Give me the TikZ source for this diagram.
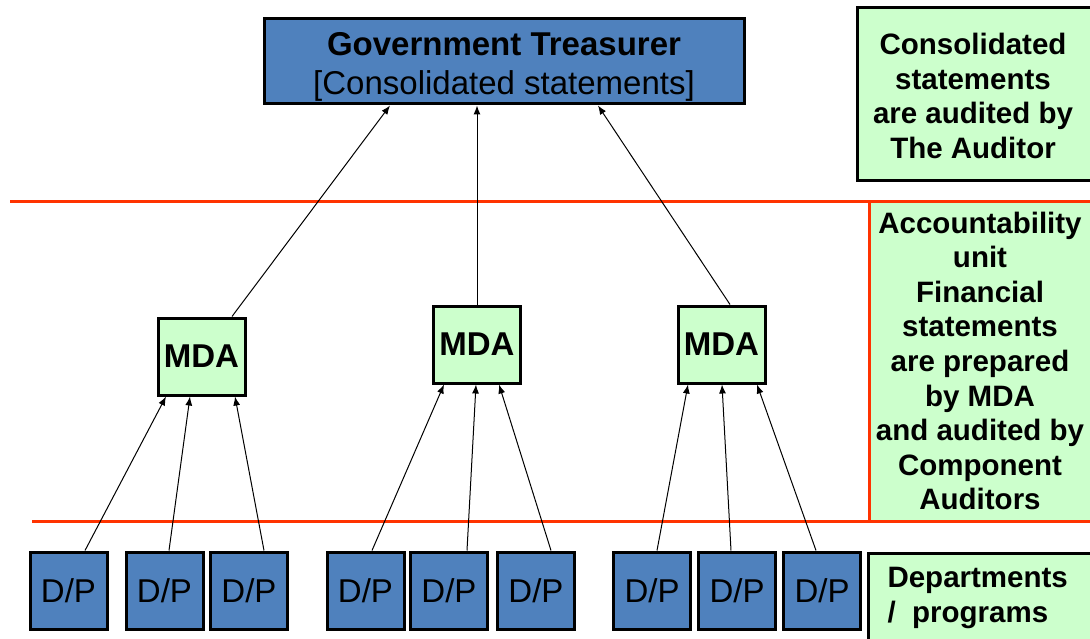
\documentclass[tikz,border=0pt]{standalone}
\usepackage{fontspec}
\setmainfont{Liberation Sans}
\usetikzlibrary{arrows.meta}
\definecolor{boxblue}{HTML}{4F81BD}
\definecolor{paleGreen}{HTML}{CCFFCC}
\definecolor{rule}{HTML}{FF3300}
\tikzset{
  box/.style={draw=black, line width=3pt, rectangle, inner sep=0pt, align=center},
  bluebox/.style={box, fill=boxblue},
  greenbox/.style={box, fill=paleGreen},
  dpbox/.style={bluebox, minimum width=77pt, minimum height=77pt,
    font=\fontsize{33}{39}\selectfont},
  mdabox/.style={greenbox, minimum width=87pt, minimum height=77pt,
    font=\fontsize{33}{39}\selectfont\bfseries},
  note/.style={font=\fontsize{29.5}{34.6}\selectfont\bfseries, align=center},
  link/.style={line width=1pt, -{Latex[length=9pt,width=7pt]}},
  divider/.style={draw=rule, line width=3pt}
}
\begin{document}
\begin{tikzpicture}[x=1pt, y=-1pt]
\useasboundingbox (0,0) rectangle (1090,639);

% shaded panel and dividing rules
\fill[paleGreen] (869,202) rectangle (1095,521);
\draw[divider] (10,202) -- (1095,202);
\draw[divider] (869,202) -- (869,521);
\draw[divider] (32,521) -- (1095,521);

% side notes
\draw[line width=3pt, fill=paleGreen] (857,8) rectangle (1100,181);
\node[note] (n1) at (973,96)
  {Consolidated\\statements\\are audited by\\The Auditor};
\node[note] (n2) at (980,361)
  {Accountability\\unit\\Financial\\ statements\\are prepared\\by MDA\\and audited by\\Component\\Auditors};
\draw[line width=3pt, fill=paleGreen] (868,553) rectangle (1100,650);
\node[note, align=left, anchor=west] (n3) at (884,598)
  {Departments\\/\ \ programs};

% treasurer
\node[bluebox, minimum width=480pt, minimum height=85pt] (gt) at (504,61.5) {};
\node[font=\fontsize{33}{39}\selectfont, align=center] (gttext) at (504,67)
  {\textbf{Government Treasurer}\\{[}Consolidated statements{]}};

% ministries, departments and agencies
\node[mdabox] (m1) at (201.5,356.5) {MDA};
\node[mdabox] (m2) at (477,344.5) {MDA};
\node[mdabox] (m3) at (721.5,344.5) {MDA};

% departments / programs
\foreach \i/\x in {1/68.5, 2/164.5, 3/249, 4/365.5, 5/449, 6/536, 7/652, 8/737, 9/822}
  \node[dpbox] (d\i) at (\x,590.5) {D/P};

% MDA -> treasurer
\draw[link] ([xshift=30.5pt]m1.north) -- ([xshift=-114pt]gt.south);
\draw[link] ([xshift=0pt]m2.north) -- ([xshift=-27pt]gt.south);
\draw[link] ([xshift=8.5pt]m3.north) -- ([xshift=94pt]gt.south);

% D/P -> MDA
\draw[link] ([xshift=16.5pt]d1.north) -- ([xshift=-35.5pt]m1.south);
\draw[link] ([xshift=4.5pt]d2.north) -- ([xshift=-11.5pt]m1.south);
\draw[link] ([xshift=15pt]d3.north) -- ([xshift=33.5pt]m1.south);
\draw[link] ([xshift=6.5pt]d4.north) -- ([xshift=-33pt]m2.south);
\draw[link] ([xshift=18pt]d5.north) -- ([xshift=-1pt]m2.south);
\draw[link] ([xshift=15pt]d6.north) -- ([xshift=22pt]m2.south);
\draw[link] ([xshift=5pt]d7.north) -- ([xshift=-33.5pt]m3.south);
\draw[link] ([xshift=-6pt]d8.north) -- ([xshift=0.5pt]m3.south);
\draw[link] ([xshift=-6pt]d9.north) -- ([xshift=35.5pt]m3.south);
\end{tikzpicture}
\end{document}
